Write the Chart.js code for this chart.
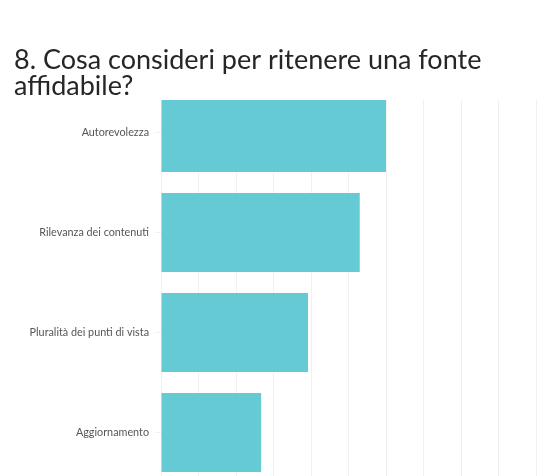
<!DOCTYPE html>
<html lang="it">
<head>
<meta charset="UTF-8">
<title>8. Cosa consideri per ritenere una fonte affidabile?</title>
<script src="https://cdn.jsdelivr.net/npm/chart.js"></script>
<style>
html, body {
    margin: 0;
    padding: 0;
    background: #ffffff;
    overflow: hidden;
}
.chartBox {
    position: relative;
    width: 550px;
    height: 476px;
}
</style>
</head>
<body>
<div class="chartBox">
    <canvas id="chart"></canvas>
</div>
<script>
// data (units = one grid step)
const categories = ['Autorevolezza', 'Rilevanza dei contenuti', 'Pluralità dei punti di vista', 'Aggiornamento'];
const values = [6.0, 5.3, 3.92, 2.67];
const titleLines = ['8. Cosa consideri per ritenere una fonte', 'affidabile?'];

const points = values.map((v, i) => ({ x: v, y: i }));

const ctx = document.getElementById('chart').getContext('2d');
const chart = new Chart(ctx, {
    type: 'bar',
    data: {
        datasets: [{
            data: points,
            backgroundColor: '#66cad4',
            borderWidth: 0,
            categoryPercentage: 0.79,
            barPercentage: 1,
            clip: 0
        }]
    },
    options: {
        indexAxis: 'y',
        responsive: true,
        maintainAspectRatio: false,
        animation: false,
        layout: { padding: { left: 14, top: 0, right: 0, bottom: 0 } },
        plugins: {
            legend: { display: false },
            tooltip: { enabled: false },
            title: {
                display: true,
                text: titleLines,
                align: 'start',
                color: '#262626',
                font: { family: 'Lato', size: 27, weight: '400', lineHeight: '26px' },
                padding: { top: 47, bottom: 1 }
            }
        },
        scales: {
            x: {
                type: 'linear',
                bounds: 'data',
                min: 0,
                max: 10.373,
                border: { display: false },
                grid: { color: '#f0f0f0', drawTicks: false },
                ticks: { display: false, stepSize: 1, includeBounds: false }
            },
            y: {
                type: 'linear',
                bounds: 'data',
                offset: false,
                reverse: true,
                min: -0.325,
                max: 3.435,
                border: { display: false },
                grid: { offset: false, drawOnChartArea: false, color: '#f2f2f2', tickLength: 6 },
                afterBuildTicks: function(scale) {
                    scale.ticks = categories.map((c, i) => ({ value: i }));
                },
                ticks: {
                    autoSkip: false,
                    padding: 6,
                    color: '#555555',
                    font: { family: 'Lato', size: 10.8 },
                    callback: function(v) { return categories[Math.round(v)]; }
                },
                afterFit: function(scale) {
                    scale.width = 147;
                    scale.paddingTop = 0;
                    scale.paddingBottom = 0;
                }
            }
        }
    }
});
</script>
</body>
</html>
